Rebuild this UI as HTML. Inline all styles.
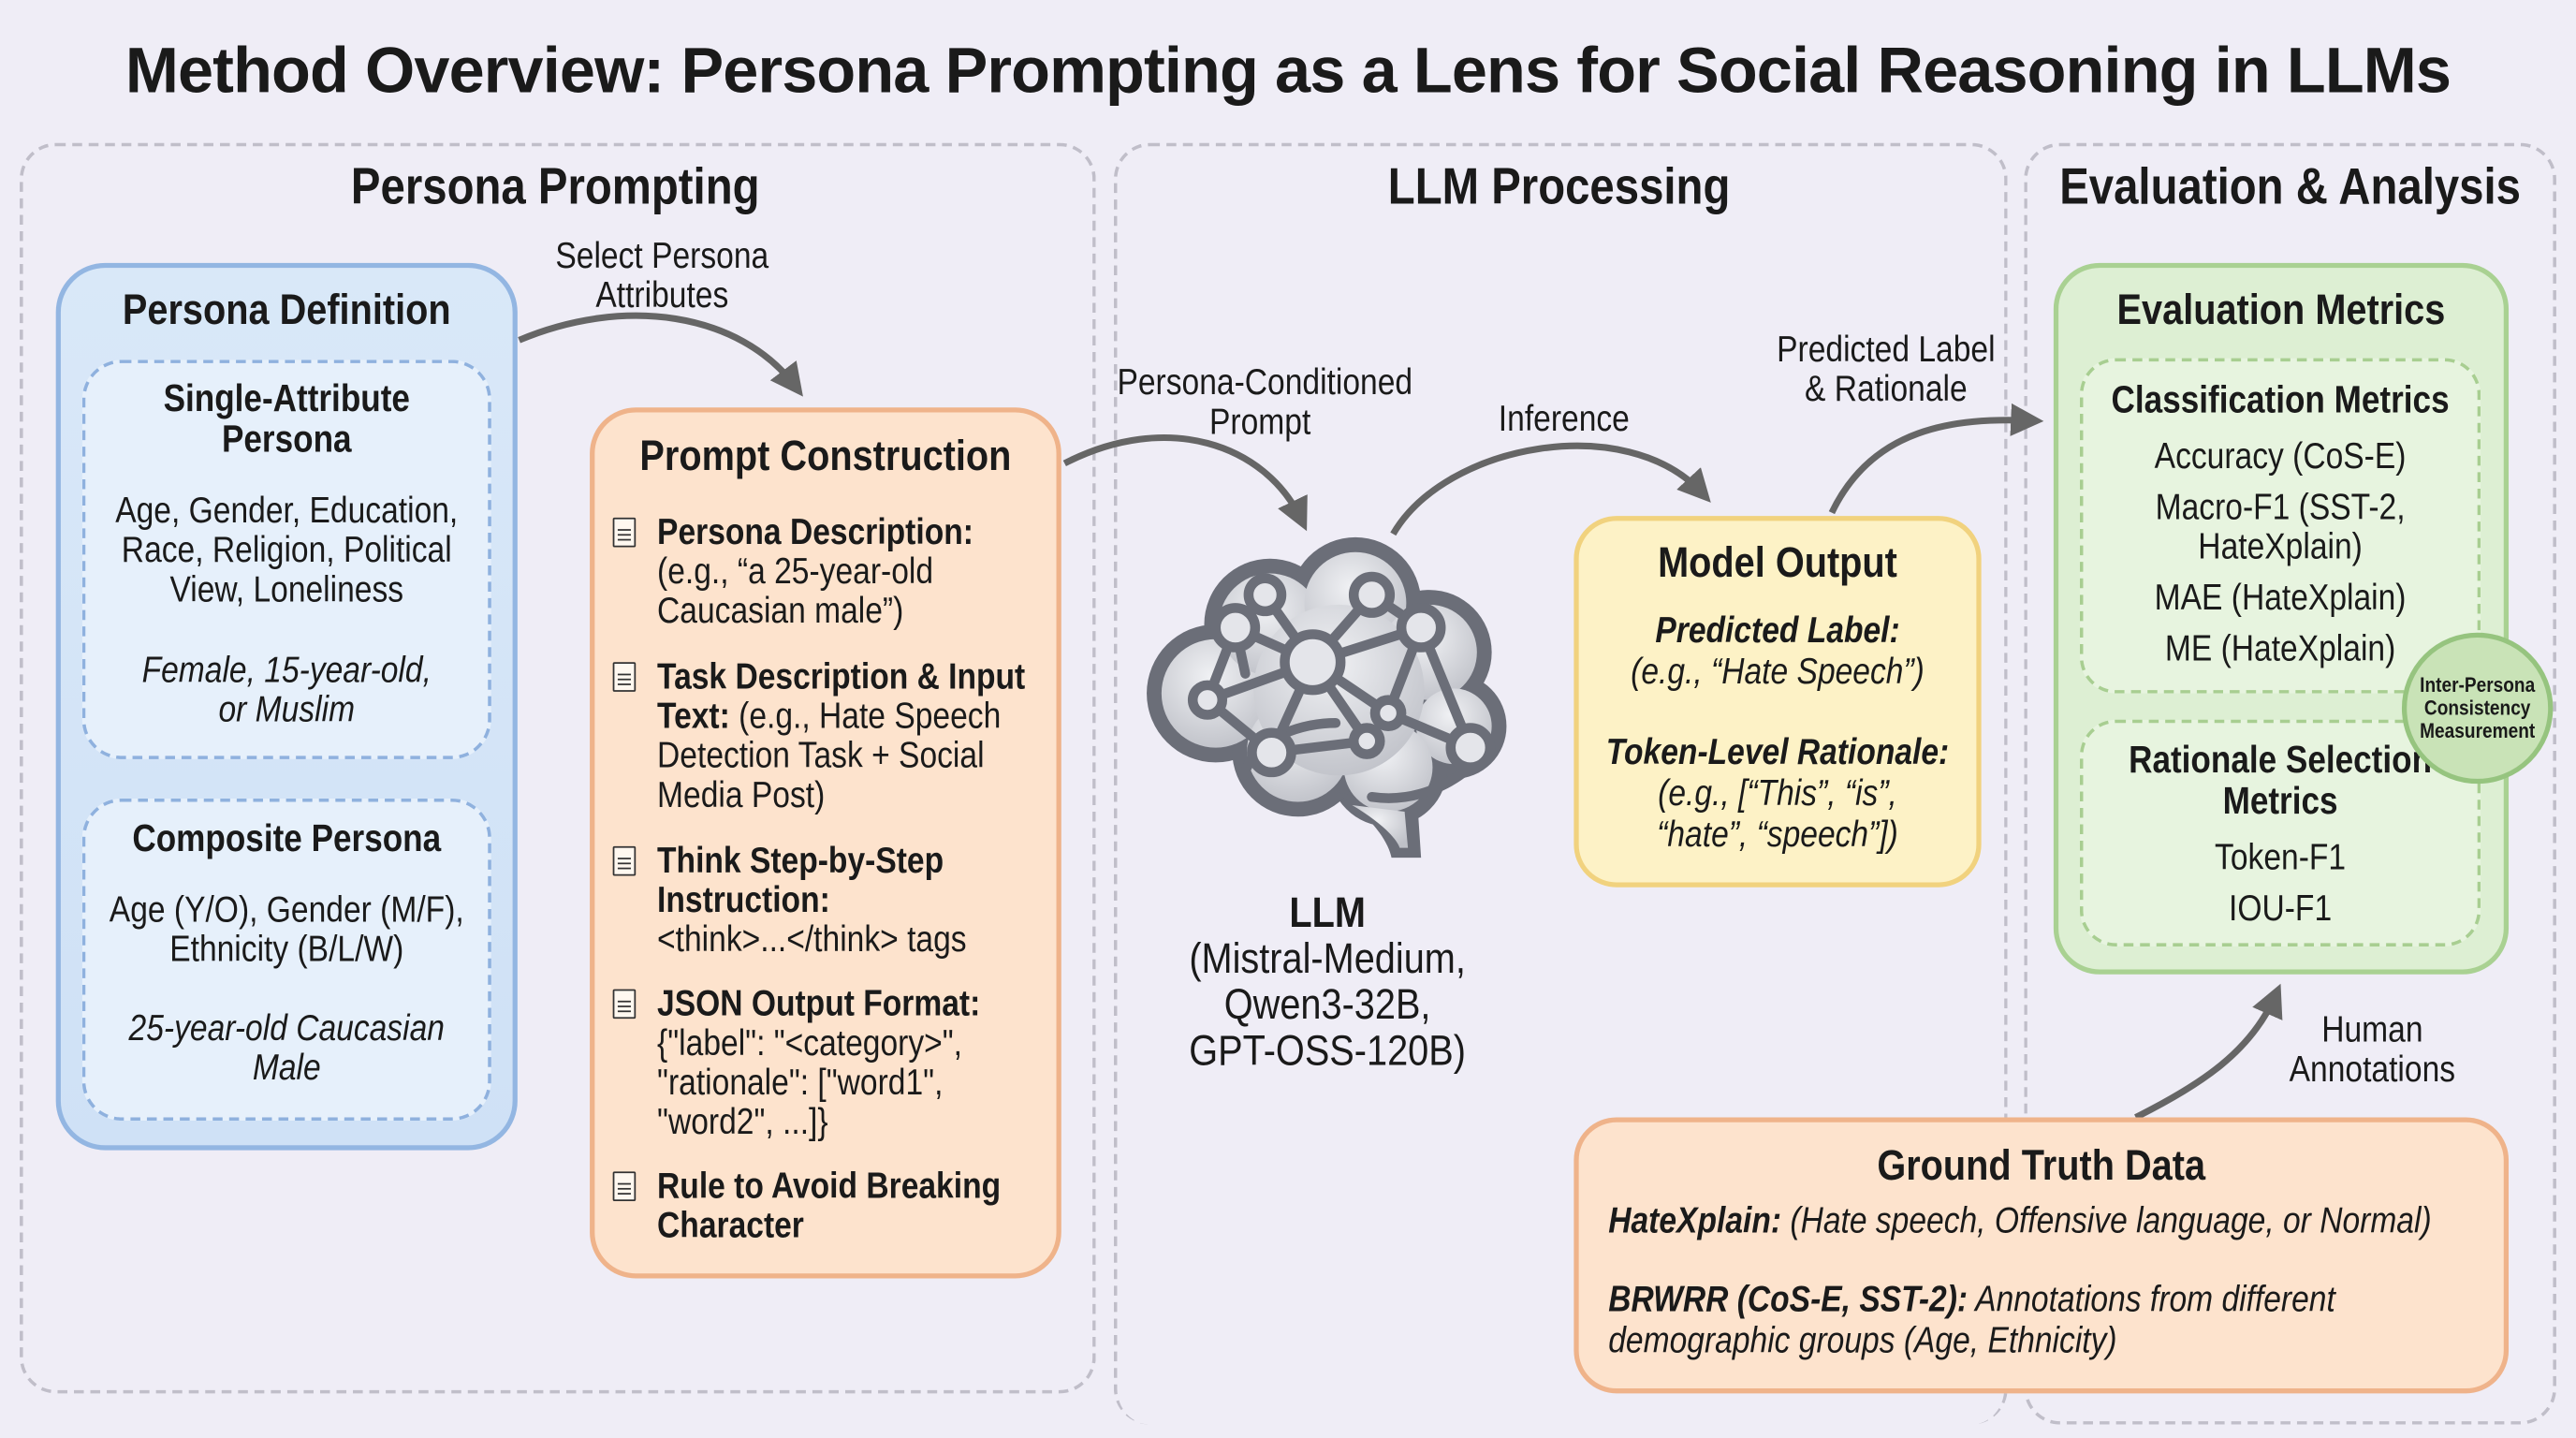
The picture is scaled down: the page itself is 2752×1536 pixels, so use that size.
<!DOCTYPE html>
<html><head><meta charset="utf-8"><style>
html,body{margin:0;padding:0;background:#efedf6;overflow:hidden}
#c{position:absolute;left:0;top:0;width:1568px;height:875px;transform:scale(1.7551);transform-origin:0 0;font-family:"Liberation Sans Narrow","Liberation Sans",sans-serif;color:#1a1a1a;background:#efedf6}
.a{position:absolute;white-space:nowrap;transform:scaleX(.87);transform-origin:0 0}
.ctr{text-align:center;transform-origin:50% 0}
.b{font-weight:bold}
.i{font-style:italic}
.box{position:absolute;box-sizing:border-box}
.doc{position:absolute;width:14px;height:18px;border:1.5px solid #333;box-sizing:border-box;background:#fff8f0;border-radius:1px}
.doc i{position:absolute;left:2px;right:2px;height:1px;background:#333}
</style></head><body><div id="c">
<div class="a b ctr" style="left:0;width:1568px;top:22px;font-size:39px;font-family:'Liberation Sans',sans-serif;letter-spacing:-0.5px;transform:none">Method Overview: Persona Prompting as a Lens for Social Reasoning in LLMs</div>

<div class="box" style="left:12px;top:87px;width:655px;height:761px;border:2px dashed #c0bec9;border-radius:22px"></div>
<div class="box" style="left:678px;top:87px;width:544px;height:780px;border:2px dashed #c0bec9;border-radius:22px;border-bottom:none"></div>
<div class="box" style="left:1232px;top:87px;width:324px;height:780px;border:2px dashed #c0bec9;border-radius:22px"></div>

<div class="a b ctr" style="left:138px;width:400px;top:96px;font-size:31px">Persona Prompting</div>
<div class="a b ctr" style="left:749px;width:400px;top:96px;font-size:31px">LLM Processing</div>
<div class="a b ctr" style="left:1194px;width:400px;top:96px;font-size:31px">Evaluation &amp; Analysis</div>

<!-- Persona Definition -->
<div class="box" style="left:34px;top:160px;width:281px;height:540px;background:linear-gradient(#d9e8f8,#cfe1f6);border:3px solid #93b6e2;border-radius:30px"></div>
<div class="a b ctr" style="left:34px;width:281px;top:173px;font-size:26px">Persona Definition</div>
<div class="box" style="left:50px;top:219px;width:249px;height:243px;background:#e6f0fb;border:2px dashed #8fb1de;border-radius:24px"></div>
<div class="a b ctr" style="left:50px;width:249px;top:230px;font-size:23px;line-height:25px">Single-Attribute<br>Persona</div>
<div class="a ctr" style="left:50px;width:249px;top:299px;font-size:22px;line-height:24px">Age, Gender, Education,<br>Race, Religion, Political<br>View, Loneliness</div>
<div class="a i ctr" style="left:50px;width:249px;top:396px;font-size:22px;line-height:24px">Female, 15-year-old,<br>or Muslim</div>
<div class="box" style="left:50px;top:486px;width:249px;height:196px;background:#e6f0fb;border:2px dashed #8fb1de;border-radius:24px"></div>
<div class="a b ctr" style="left:50px;width:249px;top:497px;font-size:23px">Composite Persona</div>
<div class="a ctr" style="left:50px;width:249px;top:542px;font-size:22px;line-height:24px">Age (Y/O), Gender (M/F),<br>Ethnicity (B/L/W)</div>
<div class="a i ctr" style="left:50px;width:249px;top:614px;font-size:22px;line-height:24px">25-year-old Caucasian<br>Male</div>

<!-- Prompt Construction -->
<div class="box" style="left:359px;top:248px;width:287px;height:530px;background:#fde3cd;border:3px solid #efb38a;border-radius:28px"></div>
<div class="a b ctr" style="left:359px;width:287px;top:262px;font-size:26px">Prompt Construction</div>
<div class="doc" style="left:373px;top:315px"><i style="top:6px"></i><i style="top:9px"></i><i style="top:12px"></i></div>
<div class="a" style="left:400px;top:312px;font-size:22px;line-height:24px"><b>Persona Description:</b><br>(e.g., “a 25-year-old<br>Caucasian male”)</div>
<div class="doc" style="left:373px;top:403px"><i style="top:6px"></i><i style="top:9px"></i><i style="top:12px"></i></div>
<div class="a" style="left:400px;top:400px;font-size:22px;line-height:24px"><b>Task Description &amp; Input</b><br><b>Text:</b> (e.g., Hate Speech<br>Detection Task + Social<br>Media Post)</div>
<div class="doc" style="left:373px;top:515px"><i style="top:6px"></i><i style="top:9px"></i><i style="top:12px"></i></div>
<div class="a" style="left:400px;top:512px;font-size:22px;line-height:24px"><b>Think Step-by-Step</b><br><b>Instruction:</b><br>&lt;think&gt;...&lt;/think&gt; tags</div>
<div class="doc" style="left:373px;top:602px"><i style="top:6px"></i><i style="top:9px"></i><i style="top:12px"></i></div>
<div class="a" style="left:400px;top:599px;font-size:22px;line-height:24px"><b>JSON Output Format:</b><br>{"label": "&lt;category&gt;",<br>"rationale": ["word1",<br>"word2", ...]}</div>
<div class="doc" style="left:373px;top:713px"><i style="top:6px"></i><i style="top:9px"></i><i style="top:12px"></i></div>
<div class="a b" style="left:400px;top:710px;font-size:22px;line-height:24px">Rule to Avoid Breaking<br>Character</div>

<!-- arrows -->
<svg style="position:absolute;left:0;top:0" width="1568" height="875" viewBox="0 0 1568 875">
<defs><marker id="ah" markerWidth="6" markerHeight="6" refX="3" refY="3" orient="auto" markerUnits="strokeWidth"><path d="M0,0.5 L5,3 L0,5.5 z" fill="#666"/></marker></defs>
<g fill="none" stroke="#666" stroke-width="4">
<path d="M316,207 C380,180 450,190 484,235" marker-end="url(#ah)"/>
<path d="M648,282 C710,250 770,270 792,316" marker-end="url(#ah)"/>
<path d="M848,325 C880,270 990,250 1036,300" marker-end="url(#ah)"/>
<path d="M1115,312 C1140,260 1190,254 1236,256" marker-end="url(#ah)"/>
<path d="M1300,680 C1340,660 1370,640 1385,606" marker-end="url(#ah)"/>
</g>
</svg>
<div class="a ctr" style="left:303px;width:200px;top:144px;font-size:22px;line-height:24px">Select Persona<br>Attributes</div>
<div class="a ctr" style="left:667px;width:200px;top:221px;font-size:22px;line-height:24px">Persona-Conditioned<br>Prompt</div>
<div class="a ctr" style="left:882px;width:140px;top:242px;font-size:22px">Inference</div>
<div class="a ctr" style="left:1048px;width:200px;top:201px;font-size:22px;line-height:24px">Predicted Label<br>&amp; Rationale</div>
<div class="a ctr" style="left:1374px;width:140px;top:615px;font-size:22px;line-height:24px">Human<br>Annotations</div>

<!-- Brain -->
<svg style="position:absolute;left:695px;top:322px" width="230" height="205" viewBox="0 0 230 205">
<defs><radialGradient id="bg" cx="0.45" cy="0.35" r="0.7"><stop offset="0" stop-color="#f0f1f4"/><stop offset="1" stop-color="#bfc1c8"/></radialGradient></defs>
<g fill="#6b6e78">
<circle cx="45" cy="100" r="42"/><circle cx="78" cy="58" r="40"/><circle cx="130" cy="45" r="40"/><circle cx="175" cy="75" r="38"/><circle cx="190" cy="120" r="32"/><circle cx="150" cy="145" r="36"/><circle cx="95" cy="135" r="40"/>
<path d="M118,160 C140,175 150,190 152,200 L170,200 L168,170 Z"/>
</g>
<g fill="url(#bg)">
<circle cx="45" cy="100" r="33"/><circle cx="78" cy="58" r="31"/><circle cx="130" cy="45" r="31"/><circle cx="175" cy="75" r="29"/><circle cx="190" cy="120" r="23"/><circle cx="150" cy="145" r="27"/><circle cx="95" cy="135" r="31"/><circle cx="120" cy="98" r="52"/>
<path d="M128,168 C145,178 155,188 157,194 L162,194 L160,172 Z"/>
</g>
<g stroke="#6b6e78" stroke-width="6" fill="none" stroke-linecap="round">
<path d="M62,150 C70,125 100,118 118,118"/>
<path d="M140,163 C160,166 180,160 196,148"/>
<line x1="104" y1="81" x2="40" y2="104"/><line x1="104" y1="81" x2="57" y2="60"/><line x1="104" y1="81" x2="75" y2="40"/><line x1="104" y1="81" x2="140" y2="40"/><line x1="104" y1="81" x2="170" y2="60"/><line x1="104" y1="81" x2="79" y2="136"/><line x1="104" y1="81" x2="137" y2="129"/><line x1="104" y1="81" x2="150" y2="112"/>
<line x1="57" y1="60" x2="75" y2="40"/><line x1="140" y1="40" x2="170" y2="60"/><line x1="57" y1="60" x2="40" y2="104"/><line x1="40" y1="104" x2="79" y2="136"/><line x1="79" y1="136" x2="137" y2="129"/><line x1="150" y1="112" x2="170" y2="60"/><line x1="170" y1="60" x2="200" y2="133"/><line x1="150" y1="112" x2="200" y2="133"/><line x1="57" y1="60" x2="63" y2="88"/>
</g>
<g fill="#e4e5ea" stroke="#6b6e78" stroke-width="6">
<circle cx="104" cy="81" r="17"/><circle cx="57" cy="60" r="12"/><circle cx="75" cy="40" r="10"/><circle cx="140" cy="40" r="11"/><circle cx="170" cy="60" r="12"/><circle cx="40" cy="104" r="9"/><circle cx="79" cy="136" r="12"/><circle cx="137" cy="129" r="8"/><circle cx="150" cy="112" r="8"/><circle cx="200" cy="133" r="12"/>
</g>
</svg>
<div class="a ctr" style="left:698px;width:220px;top:541px;font-size:26px;line-height:28px"><b>LLM</b><br>(Mistral-Medium,<br>Qwen3-32B,<br>GPT-OSS-120B)</div>

<!-- Model Output -->
<div class="box" style="left:958px;top:314px;width:248px;height:226px;background:#fdf2c6;border:3px solid #f1d27e;border-radius:26px"></div>
<div class="a b ctr" style="left:958px;width:248px;top:327px;font-size:26px">Model Output</div>
<div class="a i ctr" style="left:958px;width:248px;top:371px;font-size:22px;line-height:25px"><b>Predicted Label:</b><br>(e.g., “Hate Speech”)</div>
<div class="a i ctr" style="left:958px;width:248px;top:445px;font-size:22px;line-height:25px"><b>Token-Level Rationale:</b><br>(e.g., [“This”, “is”,<br>“hate”, “speech”])</div>

<!-- Evaluation Metrics -->
<div class="box" style="left:1250px;top:160px;width:277px;height:433px;background:#ddefd3;border:3px solid #a9d192;border-radius:28px"></div>
<div class="a b ctr" style="left:1250px;width:277px;top:173px;font-size:26px">Evaluation Metrics</div>
<div class="box" style="left:1266px;top:218px;width:244px;height:204px;background:#e7f4df;border:2px dashed #a8ce91;border-radius:22px"></div>
<div class="a b ctr" style="left:1266px;width:244px;top:230px;font-size:23px">Classification Metrics</div>
<div class="a ctr" style="left:1266px;width:244px;top:266px;font-size:22px;line-height:24px">Accuracy (CoS-E)</div>
<div class="a ctr" style="left:1266px;width:244px;top:297px;font-size:22px;line-height:24px">Macro-F1 (SST-2,<br>HateXplain)</div>
<div class="a ctr" style="left:1266px;width:244px;top:352px;font-size:22px;line-height:24px">MAE (HateXplain)</div>
<div class="a ctr" style="left:1266px;width:244px;top:383px;font-size:22px;line-height:24px">ME (HateXplain)</div>
<div class="box" style="left:1266px;top:438px;width:244px;height:138px;background:#e7f4df;border:2px dashed #a8ce91;border-radius:22px"></div>
<div class="a b ctr" style="left:1266px;width:244px;top:450px;font-size:23px;line-height:25px">Rationale Selection<br>Metrics</div>
<div class="a ctr" style="left:1266px;width:244px;top:509px;font-size:22px">Token-F1</div>
<div class="a ctr" style="left:1266px;width:244px;top:540px;font-size:22px">IOU-F1</div>
<div class="box" style="left:1462px;top:385px;width:92px;height:92px;border-radius:50%;background:#c9e3b7;border:3px solid #96c47f"></div>
<div class="a b ctr" style="left:1462px;width:92px;top:410px;font-size:12.5px;line-height:14px">Inter-Persona<br>Consistency<br>Measurement</div>

<!-- Ground Truth -->
<div class="box" style="left:958px;top:680px;width:569px;height:168px;background:#fde3cd;border:3px solid #efb38a;border-radius:26px"></div>
<div class="a b ctr" style="left:958px;width:569px;top:694px;font-size:26px">Ground Truth Data</div>
<div class="a i" style="left:979px;top:730px;font-size:22px"><b>HateXplain:</b> (Hate speech, Offensive language, or Normal)</div>
<div class="a i" style="left:979px;top:778px;font-size:22px;line-height:25px"><b>BRWRR (CoS-E, SST-2):</b> Annotations from different<br>demographic groups (Age, Ethnicity)</div>
</div></body></html>
